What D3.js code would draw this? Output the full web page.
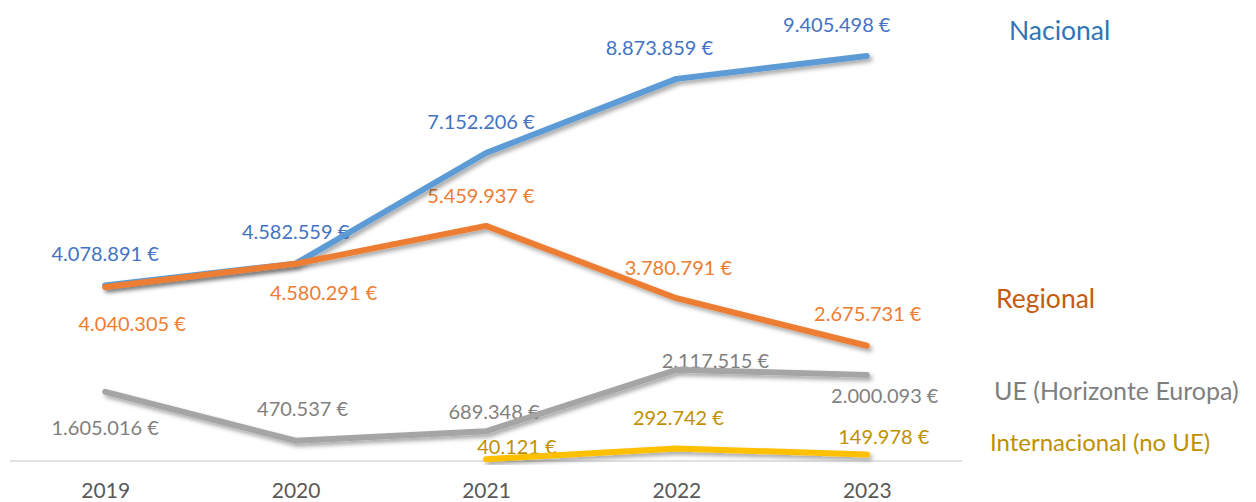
<!DOCTYPE html>
<html><head><meta charset="utf-8">
<script src="https://cdn.jsdelivr.net/npm/d3@7"></script>
<style>body{margin:0;background:#fff}svg{display:block;font-family:Lato,"Open Sans",sans-serif}</style>
</head><body><svg id="c" width="1256" height="502"></svg>
<script>
const years = ["2019","2020","2021","2022","2023"];
const seriesNames = ["Nacional","Regional","UE (Horizonte Europa)","Internacional (no UE)"];
const nacional = [4078891, 4582559, 7152206, 8873859, 9405498];
const regional = [4040305, 4580291, 5459937, 3780791, 2675731];
const ue = [1605016, 470537, 689348, 2117515, 2000093];
const internacional = [null, null, 40121, 292742, 149978];

const svg = d3.select("#c");
const x = d3.scalePoint().domain(years).range([10, 962]).padding(0.5);
const y = d3.scaleLinear().domain([0, 10000000]).range([461, 30.4]);
const fmt = v => d3.formatLocale({decimal:",",thousands:".",grouping:[3],currency:["","€"]}).format(",")(v) + " €";

const defs = svg.append("defs");
const f = defs.append("filter").attr("id","sh").attr("x","-10%").attr("y","-50%").attr("width","120%").attr("height","200%");
f.append("feDropShadow").attr("dx",2.5).attr("dy",3).attr("stdDeviation",2).attr("flood-color","#000").attr("flood-opacity",0.35);

// axis
svg.append("g").attr("transform","translate(0,461)")
  .call(d3.axisBottom(x).tickSize(0).tickPadding(22))
  .call(g=>{g.select(".domain").attr("d","M10,0H962").attr("stroke","#d9d9d9").attr("stroke-width",1.5);
    g.selectAll("text").attr("font-size",21).attr("fill","#595959").attr("font-family","Lato");});

const styles = [
  {data:nacional, line:"#5B9BD5", lab:"#4472C4", leg:"#2E75B6", legX:1009, legY:30, legSize:26.5,
   off:[[0,-32],[0,-33],[-5,-32],[-17,-32],[-30,-32]]},
  {data:regional, line:"#ED7D31", lab:"#ED7D31", leg:"#C55A11", legX:996, legY:298, legSize:26.5,
   off:[[27,36],[28,28],[-5,-31],[2,-31],[1,-33]]},
  {data:ue, line:"#A5A5A5", lab:"#7F7F7F", leg:"#7F7F7F", legX:994, legY:390, legSize:25,
   off:[[0,35],[7,-33],[8,-20],[39,-10],[18,20]]},
  {data:internacional, line:"#FFC000", lab:"#BF9000", leg:"#BF9000", legX:990, legY:441, legSize:24,
   off:[null,null,[31,-13],[2,-31],[17,-19]]}
];

const line = d3.line().defined(d=>d.v!=null).x(d=>x(d.k)).y(d=>y(d.v));

// labels
styles.forEach(s=>{
  const pts = years.map((k,i)=>({k, v:s.data[i], o:s.off[i]})).filter(d=>d.v!=null);
  svg.append("g").selectAll("text").data(pts).join("text")
    .attr("x",d=>x(d.k)+d.o[0]).attr("y",d=>y(d.v)+d.o[1])
    .attr("text-anchor","middle").attr("dominant-baseline","central")
    .attr("font-size",20).attr("fill",s.lab).text(d=>fmt(d.v));
});
// lines
styles.forEach(s=>{
  const pts = years.map((k,i)=>({k, v:s.data[i]}));
  svg.append("path").datum(pts).attr("d",line).attr("fill","none")
    .attr("stroke",s.line).attr("stroke-width",6).attr("stroke-linecap","round").attr("stroke-linejoin","round")
    .attr("filter","url(#sh)");
});
// legend labels
styles.forEach((s,i)=>{
  svg.append("text").attr("x",s.legX).attr("y",s.legY).attr("dominant-baseline","central")
    .attr("font-size",s.legSize).attr("fill",s.leg).text(seriesNames[i]);
});
</script></body></html>
